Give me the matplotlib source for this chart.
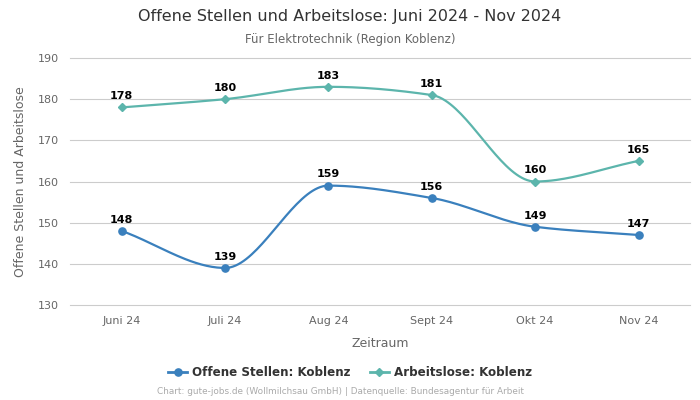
import numpy as np
import matplotlib
matplotlib.use("Agg")
import matplotlib.pyplot as plt
from matplotlib.lines import Line2D

categories = ["Juni 24", "Juli 24", "Aug 24", "Sept 24", "Okt 24", "Nov 24"]
offene = [148, 139, 159, 156, 149, 147]
arbeitslose = [178, 180, 183, 181, 160, 165]

c_blue = "#3a80bd"
c_teal = "#5cb5ac"


def monotone_curve(x, y, n=40):
    x = np.asarray(x, float); y = np.asarray(y, float)
    h = np.diff(x); d = np.diff(y) / h
    m = np.zeros_like(y)
    m[0] = d[0]; m[-1] = d[-1]
    for i in range(1, len(y) - 1):
        if d[i - 1] * d[i] <= 0:
            m[i] = 0
        else:
            w1 = 2 * h[i] + h[i - 1]; w2 = h[i] + 2 * h[i - 1]
            m[i] = (w1 + w2) / (w1 / d[i - 1] + w2 / d[i])
    xs, ys = [], []
    for i in range(len(x) - 1):
        t = np.linspace(0, 1, n)
        h00 = 2 * t**3 - 3 * t**2 + 1; h10 = t**3 - 2 * t**2 + t
        h01 = -2 * t**3 + 3 * t**2; h11 = t**3 - t**2
        xs.append(x[i] + t * h[i])
        ys.append(h00 * y[i] + h10 * h[i] * m[i] + h01 * y[i + 1] + h11 * h[i] * m[i + 1])
    return np.concatenate(xs), np.concatenate(ys)


fig = plt.figure(figsize=(7, 4), dpi=100)
ax = fig.add_axes([0.1, 0.2375, 0.886, 0.6175])
xi = np.arange(len(categories))

for vals, col, mk, ms in [(offene, c_blue, "o", 5.2), (arbeitslose, c_teal, "D", 3.6)]:
    sx, sy = monotone_curve(xi, vals)
    ax.plot(sx, sy, color=col, lw=1.6, zorder=3)
    ax.plot(xi, vals, ls="none", marker=mk, ms=ms, color=col, zorder=4)
    for x, v in zip(xi, vals):
        ax.annotate(str(v), (x, v), xytext=(0, 4.5), textcoords="offset points",
                    ha="center", va="bottom", fontsize=8, fontweight="bold", color="black")

ax.set_xlim(-0.5, len(categories) - 0.5)
ax.set_ylim(130, 190)
ax.set_yticks(range(130, 191, 10))
ax.set_xticks(xi)
ax.set_xticklabels(categories)
ax.grid(axis="y", color="#cccccc", lw=0.8)
for gl in ax.get_ygridlines():
    gl.set_clip_on(False)
ax.set_axisbelow(True)
for s in ax.spines.values():
    s.set_visible(False)
ax.tick_params(axis="both", length=0, colors="#666666", labelsize=8, pad=8)
ax.set_xlabel("Zeitraum", color="#666666", fontsize=9, labelpad=8)
ax.set_ylabel("Offene Stellen und Arbeitslose", color="#666666", fontsize=9, labelpad=8)

fig.text(0.5, 0.958, "Offene Stellen und Arbeitslose: Juni 2024 - Nov 2024", ha="center", va="center",
         fontsize=11.5, color="#333333")
fig.text(0.5, 0.902, "Für Elektrotechnik (Region Koblenz)", ha="center", va="center",
         fontsize=8.5, color="#666666")

handles = [Line2D([0], [0], color=c_blue, marker="o", ms=5.2, lw=2),
           Line2D([0], [0], color=c_teal, marker="D", ms=3.6, lw=2)]
fig.legend(handles, ["Offene Stellen: Koblenz", "Arbeitslose: Koblenz"], loc="center",
           bbox_to_anchor=(0.5, 0.068), ncol=2, frameon=False, handlelength=1.6,
           columnspacing=1.6, handletextpad=0.4,
           prop={"size": 8.6, "weight": "bold"}, labelcolor="#333333")
fig.text(0.486, 0.02, "Chart: gute-jobs.de (Wollmilchsau GmbH) | Datenquelle: Bundesagentur für Arbeit",
         ha="center", va="center", fontsize=6.4, color="#aaaaaa")

fig.savefig("out.png", dpi=100)
